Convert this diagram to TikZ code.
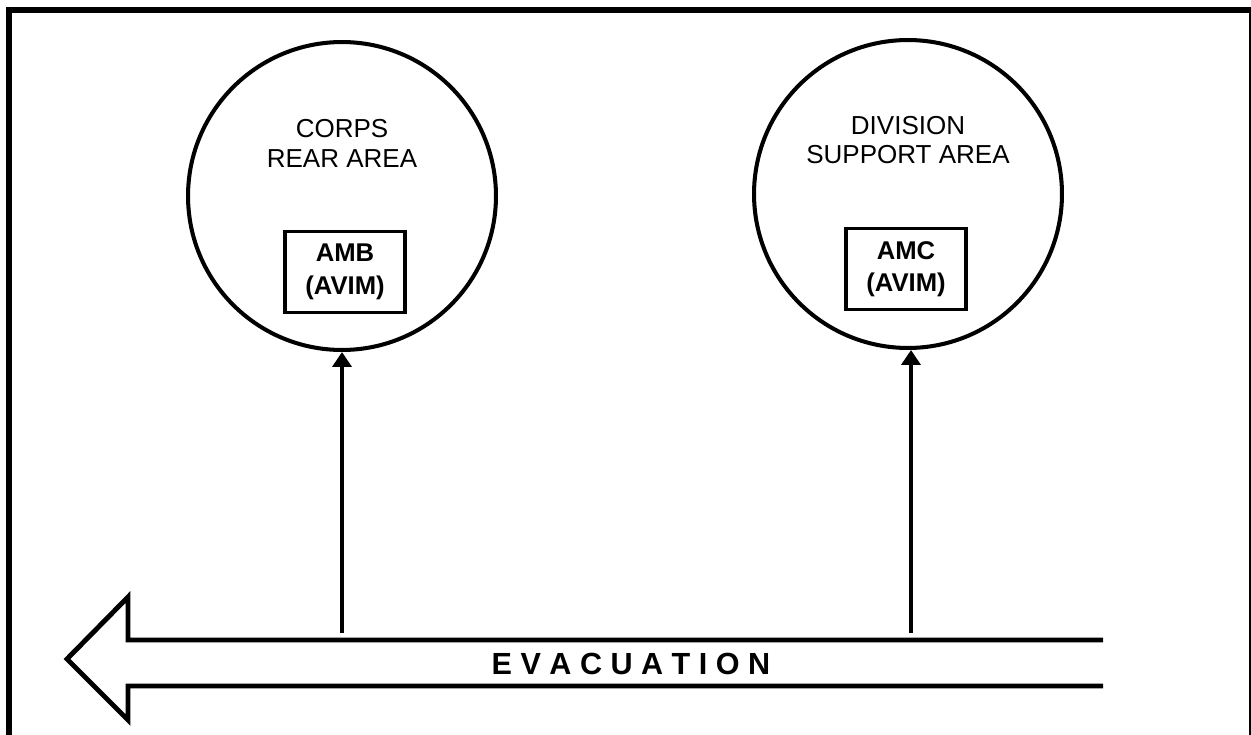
\documentclass[tikz,border=0pt]{standalone}
\usepackage{fontspec}
\setmainfont{Liberation Sans}
\usetikzlibrary{arrows.meta, positioning}

\begin{document}
\begin{tikzpicture}[
  x=0.02cm, y=-0.02cm,
  area/.style={circle, draw, line width=2.3pt, minimum size=6.16cm, inner sep=0pt},
  areatext/.style={align=center, font=\fontsize{14.8}{17}\selectfont},
  unit/.style={rectangle, draw, line width=2pt, minimum width=2.4cm,
               minimum height=1.62cm, align=center,
               font=\fontsize{14.6}{18.5}\selectfont\bfseries},
  arrow/.style={-{Triangle[length=0.3cm, width=0.38cm]}, line width=2.7pt},
  flow/.style={line width=2.8pt, line join=miter},
]
\useasboundingbox (0,0) rectangle (1251,734);

% Frame
\draw[line width=3.4pt] (9,10) rectangle (1252,800);

% Areas
\node[area] (rear) at (342,196) {};
\node[area] (dsa) at (908,194) {};
\node[areatext] (reartext) at (342,143) {CORPS\\REAR AREA};
\node[areatext] (dsatext) at (908,140) {DIVISION\\SUPPORT AREA};

% Units
\node[unit] (amb) at (345,272) {AMB\\(AVIM)};
\node[unit] (amc) at (906,269) {AMC\\(AVIM)};

% Evacuation arrow
\draw[flow] (1103,640) -- (128,640) -- (128,597) -- (67,659)
  -- (128,720) -- (128,686) -- (1103,686);
\node[font=\fontsize{17.4}{20}\selectfont\bfseries] (evac) at (631,664)
  {E V A C U A T I O N};

% Arrows up to the areas
\coordinate (rearfoot) at (342,633);
\coordinate (dsafoot) at (911,633);
\draw[arrow] (rearfoot) -- (rear.south);
\draw[arrow] (dsafoot) -- (dsa.south -| dsafoot);

\end{tikzpicture}
\end{document}
